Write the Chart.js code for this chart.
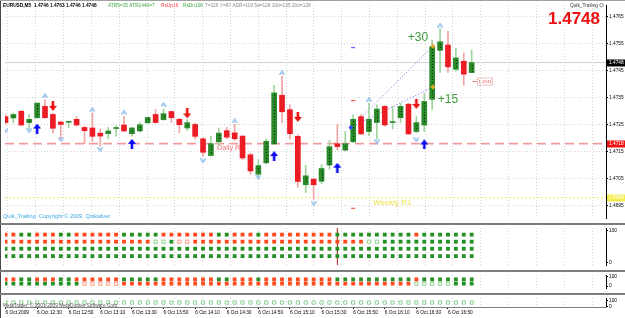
<!DOCTYPE html>
<html>
<head>
<meta charset="utf-8">
<script src="https://cdn.jsdelivr.net/npm/chart.js@4.4.1/dist/chart.umd.min.js"></script>
<style>
  html, body { margin: 0; padding: 0; background: #fff; }
  #wrap { position: relative; width: 625px; height: 318px; overflow: hidden; background: #fff; }
  #wrap canvas { position: absolute; left: 0; }
</style>
</head>
<body>
<div id="wrap">
  <canvas id="main" width="625" height="223" style="top:0px"></canvas>
  <canvas id="p1" width="625" height="47" style="top:223px"></canvas>
  <canvas id="p2" width="625" height="23" style="top:270px"></canvas>
  <canvas id="p3" width="625" height="25" style="top:293px"></canvas>
</div>
<script>
// ---- data ----
const opens  = [1.47280,1.47275,1.47300,1.47258,1.47276,1.47318,1.47288,1.47260,1.47259,1.47270,
                1.47240,1.47238,1.47219,1.47217,1.47236,1.47249,1.47217,1.47227,1.47257,1.47288,
                1.47269,1.47299,1.47270,1.47238,1.47251,1.47198,1.47136,1.47187,1.47228,1.47220,
                1.47208,1.47139,1.47067,1.47109,1.47179,1.47359,1.47306,1.47207,1.47028,1.47049,
                1.47041,1.47101,1.47180,1.47156,1.47187,1.47280,1.47225,1.47258,1.47318,1.47258,
                1.47276,1.47326,1.47225,1.47249,1.47344,1.47525,1.47545,1.47455,1.47485,1.47443];
const highs  = [1.47288,1.47294,1.47302,1.47288,1.47331,1.47342,1.47292,1.47263,1.47263,1.47280,
                1.47245,1.47294,1.47234,1.47240,1.47246,1.47282,1.47241,1.47258,1.47279,1.47306,
                1.47308,1.47301,1.47274,1.47270,1.47256,1.47202,1.47208,1.47238,1.47240,1.47252,
                1.47210,1.47145,1.47121,1.47198,1.47396,1.47431,1.47324,1.47213,1.47100,1.47051,
                1.47103,1.47192,1.47252,1.47225,1.47288,1.47288,1.47330,1.47324,1.47320,1.47318,
                1.47330,1.47330,1.47280,1.47366,1.47563,1.47607,1.47596,1.47533,1.47515,1.47527];
const lows   = [1.47252,1.47256,1.47245,1.47234,1.47273,1.47274,1.47220,1.47198,1.47238,1.47245,
                1.47180,1.47189,1.47170,1.47198,1.47208,1.47223,1.47208,1.47223,1.47256,1.47256,
                1.47266,1.47258,1.47220,1.47228,1.47198,1.47133,1.47134,1.47173,1.47198,1.47192,
                1.47121,1.47067,1.47058,1.47105,1.47177,1.47258,1.47198,1.47019,1.46999,1.46974,
                1.47031,1.47085,1.47156,1.47155,1.47184,1.47214,1.47210,1.47198,1.47245,1.47234,
                1.47258,1.47215,1.47220,1.47225,1.47306,1.47443,1.47444,1.47447,1.47396,1.47443];
const closes = [1.47258,1.47288,1.47249,1.47270,1.47330,1.47276,1.47237,1.47251,1.47260,1.47249,
                1.47228,1.47207,1.47208,1.47227,1.47238,1.47227,1.47238,1.47250,1.47277,1.47258,
                1.47291,1.47276,1.47250,1.47258,1.47207,1.47148,1.47180,1.47219,1.47204,1.47198,
                1.47127,1.47079,1.47099,1.47189,1.47368,1.47298,1.47217,1.47040,1.47061,1.47028,
                1.47088,1.47169,1.47169,1.47180,1.47270,1.47216,1.47270,1.47308,1.47249,1.47259,
                1.47318,1.47216,1.47258,1.47336,1.47539,1.47557,1.47464,1.47497,1.47437,1.47480];

const tickBars   = [0, 4, 8, 12, 16, 20, 24, 28, 32, 36, 40, 44, 48, 52, 56];
const tickLabels = ['6 Oct 2009','6 Oct 12:30','6 Oct 12:50','6 Oct 13:10','6 Oct 13:30','6 Oct 13:50',
                    '6 Oct 14:10','6 Oct 14:30','6 Oct 14:50','6 Oct 15:10','6 Oct 15:30','6 Oct 15:50',
                    '6 Oct 16:10','6 Oct 16:30','6 Oct 16:50'];
const priceTicks = [1.4765, 1.4755, 1.4745, 1.4735, 1.4725, 1.4715, 1.4705, 1.4695];

const bidLevel = 1.4748;
const dailyLevel = 1.4718;
const weeklyLevel = 1.4698;
const stopLevel = 1.4741;
const dailyLabel = 'Daily R2';
const weeklyLabel = 'Weekly R1';

const upArrowBars   = [4, 16, 34, 42, 53];
const upArrowPrices = [1.47236, 1.47179, 1.47134, 1.47091, 1.47177];
const dnArrowBars   = [6, 23, 37, 52];
const dnArrowPrices = [1.47320, 1.47292, 1.47279, 1.47327];

const fracUpBars   = [5, 11, 15, 20, 29, 35, 46, 55];
const fracUpPrices = [1.47358, 1.47306, 1.47297, 1.47325, 1.47265, 1.47443, 1.47344, 1.47619];
const fracDnBars   = [0, 3, 7, 12, 25, 32, 39, 47, 52];
const fracDnPrices = [1.47227, 1.47227, 1.47195, 1.47158, 1.47116, 1.47056, 1.46958, 1.47187, 1.47194];

const blueMarkBars = [44], blueMarkPrices = [1.47535];
const redMarkBars = [44, 44], redMarkPrices = [1.47339, 1.46941];

const trendStartBar = 43.7, trendStartPrice = 1.4724;
const trendEndBar = 54.1, trendHi = 1.4754, trendLo = 1.4739;

// indicator panes: r/g solid, R/G hollow
const pane1Rows = [
  'rrggrrrggrrrrrrgggggrrrrrrrggrrrgrrrrr' + 'rrrrggggggggggrggggggg',
  'rrrrrrrrrrrrrrrrrrr' + 'GG' + 'g' + 'RR' + 'rrrrrrrrrrrrrrrrrrrrrr' + 'GG' + 'gggggggggggg',
  'gggggggggggggggggggggggggggggggggggggggggggggggggggggggggggg',
  'gggggggggggggggggggggggggggggggggggggggggggggggggggggggggggg'
];
const pane1Levels = [87, 65, 43, 20];
const pane1MarkerBar = 42;
const pane2Rows = [
  'rrggrrrggrrrrrrgggggrrrrrrrggrrrgrrrrr' + 'rrrrggggggggggrggggggg',
  'gggggggggg' + 'RRRRR' + 'rrrrrrrrrrrrrrrrrrrrrrrrrrrrrrrrrrrrr' + 'GGGGG' + 'ggg'
];
const pane2Levels = [73, 27];
const pane3Rows = ['GGGGGGGGGGGGGGGGGGGGGGGGGGGGGGGGGGGGGGGGGGGGGGGGGGGGGGGGGGGG'];
const pane3Levels = [65];

// ---- styling ----
const FAM = '"Liberation Sans", Arial, sans-serif';
const X_MIN = -0.063, X_MAX = 76.0;
const AXIS_W = 19;
const RED = '#ec1c24', GREEN = '#2a8a2a', RED_W = '#f4a3a3', GREEN_W = '#9fd49f';
const gridBars = [];
for (let b = 0.31; b < X_MAX; b += 3.52) gridBars.push(b);

const N = opens.length;
const idx = opens.map((_, i) => i);
const isUp = idx.map(i => closes[i] >= opens[i]);

function arrowImg(color, up) {
  const c = document.createElement('canvas');
  c.width = 8; c.height = 10;
  const g = c.getContext('2d');
  g.fillStyle = color;
  g.beginPath();
  if (up) {
    g.moveTo(4, 0); g.lineTo(8, 5); g.lineTo(5.3, 5); g.lineTo(5.3, 10);
    g.lineTo(2.7, 10); g.lineTo(2.7, 5); g.lineTo(0, 5);
  } else {
    g.moveTo(4, 10); g.lineTo(8, 5); g.lineTo(5.3, 5); g.lineTo(5.3, 0);
    g.lineTo(2.7, 0); g.lineTo(2.7, 5); g.lineTo(0, 5);
  }
  g.closePath(); g.fill();
  return c;
}
function fractalImg(up) {
  const c = document.createElement('canvas');
  c.width = 6; c.height = 5;
  const g = c.getContext('2d');
  g.strokeStyle = '#7fb3e8'; g.fillStyle = '#d3e6fa'; g.lineWidth = 0.9;
  g.beginPath();
  if (up) { g.moveTo(0.5, 4.5); g.lineTo(3, 0.5); g.lineTo(5.5, 4.5); g.lineTo(3, 3); }
  else { g.moveTo(0.5, 0.5); g.lineTo(3, 4.5); g.lineTo(5.5, 0.5); g.lineTo(3, 2); }
  g.closePath(); g.fill(); g.stroke();
  return c;
}

function pts(bars, vals) { return bars.map((b, i) => ({ x: b, y: vals[i] })); }
function marker(data, style, order) {
  return { type: 'line', showLine: false, data, pointStyle: style, pointRadius: 4, order };
}

function xGrid(show) {
  return {
    type: 'linear', min: X_MIN, max: X_MAX, offset: false,
    ticks: { display: false },
    grid: { display: show, offset: false, color: '#d2d2d2', drawTicks: false },
    border: { display: false, dash: [1, 2] },
    afterBuildTicks: s => { s.ticks = gridBars.map(v => ({ value: v })); },
    afterFit: s => { s.height = 0; s.paddingLeft = 0; s.paddingRight = 0; }
  };
}

function framePlugin(isPane) {
  return {
    id: 'frame',
    afterDraw(chart) {
      const ctx = chart.ctx;
      ctx.save();
      ctx.fillStyle = '#4a4a4a';
      ctx.fillRect(0, 0, 1, chart.height);
      if (isPane) { ctx.fillStyle = '#7d7d7d'; ctx.fillRect(0, 0, chart.width, 2); }
      else { ctx.fillStyle = '#a0a0a0'; ctx.fillRect(0, 0, chart.width, 1); }
      ctx.restore();
    }
  };
}

// dotted centre of the green bodies, like the terminal draws them
const bodyDots = {
  id: 'bodyDots',
  afterDatasetDraw(chart, args) {
    if (chart.data.datasets[args.index].label !== 'bodies') return;
    const ctx = chart.ctx;
    ctx.save();
    ctx.fillStyle = '#0c300c';
    args.meta.data.forEach((el, i) => {
      if (!isUp[i]) return;
      const top = Math.min(el.y, el.base), bot = Math.max(el.y, el.base);
      for (let yy = top + 2; yy < bot - 1; yy += 3) ctx.fillRect(Math.round(el.x), Math.round(yy), 1, 1);
    });
    ctx.restore();
  }
};

const mainText = {
  id: 'mainText',
  beforeDatasetsDraw(chart) {
    const { ctx, scales: { y } } = chart;
    ctx.save();
    ctx.textBaseline = 'top';
    ctx.font = `7.2px ${FAM}`; ctx.fillStyle = '#f27878';
    ctx.fillText(dailyLabel, 217, y.getPixelForValue(dailyLevel) + 1);
    ctx.font = `8px ${FAM}`; ctx.fillStyle = '#efe74e';
    ctx.fillText(weeklyLabel, 373, y.getPixelForValue(weeklyLevel) + 1);
    ctx.restore();
  },
  afterDraw(chart) {
    const { ctx, scales: { x, y } } = chart;
    ctx.save();
    // header line
    ctx.textBaseline = 'alphabetic'; ctx.textAlign = 'left';
    ctx.font = `bold 4.8px ${FAM}`; ctx.fillStyle = '#000';
    ctx.fillText('EURUSD,M5  1.4746 1.4763 1.4746 1.4748', 3, 7.2);
    ctx.font = `4.8px ${FAM}`;
    ctx.fillStyle = '#3ca63c'; ctx.fillText('ATR5=15 ATR1440=7', 108, 7.2);
    ctx.fillStyle = '#ff3c3c'; ctx.fillText('RsUp16', 161, 7.2);
    ctx.fillStyle = '#3ca63c'; ctx.fillText('RsDn106', 183, 7.2);
    ctx.fillStyle = '#8a8a8a'; ctx.fillText('T=116 Y=87 ADR=119 5d=128 10d=135 20d=128', 205, 7.2);

    // top right: indicator name and big price
    ctx.textAlign = 'right';
    ctx.fillStyle = '#333'; ctx.fillText('Quik_Trailing', 598, 7);
    ctx.strokeStyle = '#777'; ctx.lineWidth = 0.8;
    ctx.beginPath(); ctx.arc(601.5, 5.2, 1.8, 0, Math.PI * 2); ctx.stroke();
    ctx.font = `bold 17px ${FAM}`; ctx.fillStyle = '#ee1111';
    ctx.fillText(closes[N - 1].toFixed(4), 600, 24);

    // coloured price boxes on the axis
    ctx.textAlign = 'left'; ctx.textBaseline = 'middle'; ctx.font = `4.8px ${FAM}`;
    [[bidLevel, '#000', '#fff'], [dailyLevel, '#ee1111', '#fff'], [weeklyLevel, '#f2ec4c', '#fff']].forEach(([v, bg, fg]) => {
      const py = Math.round(y.getPixelForValue(v));
      ctx.fillStyle = bg; ctx.fillRect(607, py - 3.5, 18, 7);
      ctx.fillStyle = fg; ctx.fillText(v.toFixed(4), 609, py);
    });

    // trailing targets
    const ex = x.getPixelForValue(trendEndBar);
    ctx.font = `12px ${FAM}`; ctx.fillStyle = '#3d9b3d'; ctx.textAlign = 'center';
    ctx.fillText('+' + Math.round((trendHi - trendStartPrice) * 10000), ex - 15, y.getPixelForValue(trendHi) - 9);
    ctx.fillText('+' + Math.round((trendLo - trendStartPrice) * 10000), ex + 15, y.getPixelForValue(trendLo) + 13);

    // stop label right of the last bar
    const sx = x.getPixelForValue(N - 1), sy = Math.round(y.getPixelForValue(stopLevel)) + 0.5;
    ctx.strokeStyle = '#ee8080'; ctx.lineWidth = 1;
    ctx.beginPath(); ctx.moveTo(sx + 1, sy); ctx.lineTo(sx + 5, sy); ctx.stroke();
    ctx.setLineDash([1, 1]); ctx.strokeRect(Math.round(sx) + 5.5, sy - 3.5, 15, 7); ctx.setLineDash([]);
    ctx.fillStyle = '#e05050'; ctx.font = `4.4px ${FAM}`; ctx.textAlign = 'left';
    ctx.fillText(stopLevel.toFixed(4), Math.round(sx) + 6.5, sy);

    // copyright of the indicator
    ctx.textBaseline = 'alphabetic';
    ctx.font = `5.6px ${FAM}`; ctx.fillStyle = '#3aa6e6';
    ctx.fillText('Quik_Trailing  Copyright \u00a9 2009  Quiksilver', 3, 218);
    ctx.restore();
  }
};

new Chart(document.getElementById('main'), {
  type: 'line',
  data: {
    datasets: [
      marker(pts(upArrowBars, upArrowPrices), arrowImg('#0a0af5', true), 1),
      marker(pts(dnArrowBars, dnArrowPrices), arrowImg('#ee1111', false), 1),
      marker(pts(fracUpBars, fracUpPrices), fractalImg(true), 2),
      marker(pts(fracDnBars, fracDnPrices), fractalImg(false), 2),
      Object.assign(marker(pts(blueMarkBars, blueMarkPrices), 'line', 2), { pointBorderColor: '#3b3bff', pointBorderWidth: 1, pointRadius: 2 }),
      Object.assign(marker(pts(redMarkBars, redMarkPrices), 'line', 2), { pointBorderColor: '#ee3333', pointBorderWidth: 1, pointRadius: 2 }),
      Object.assign(marker([{ x: trendEndBar, y: trendHi }, { x: trendEndBar, y: trendLo }], 'rectRot', 3),
        { pointBackgroundColor: '#e2a82a', pointBorderColor: '#e2a82a', pointRadius: 2 }),
      Object.assign(marker([{ x: trendStartBar, y: trendStartPrice }], 'circle', 3),
        { pointBackgroundColor: '#3344ff', pointBorderColor: '#3344ff', pointRadius: 1.5 }),
      {
        label: 'bodies', type: 'bar', grouped: false, barThickness: 5, minBarLength: 1, borderWidth: 0, order: 10,
        data: idx.map(i => ({ x: i, y: [opens[i], closes[i]] })),
        backgroundColor: idx.map(i => isUp[i] ? GREEN : RED)
      },
      {
        label: 'wicks', type: 'bar', grouped: false, barThickness: 1, minBarLength: 1, borderWidth: 0, order: 20,
        data: idx.map(i => ({ x: i, y: [lows[i], highs[i]] })),
        backgroundColor: idx.map(i => isUp[i] ? GREEN_W : RED_W)
      },
      { type: 'line', order: 30, data: [{ x: trendStartBar, y: trendStartPrice }, { x: trendEndBar, y: trendHi }],
        borderColor: '#6b6bff', borderWidth: 1, borderDash: [1, 2], pointRadius: 0 },
      { type: 'line', order: 30, data: [{ x: trendStartBar, y: trendStartPrice }, { x: trendEndBar, y: trendLo }],
        borderColor: '#6b6bff', borderWidth: 1, borderDash: [1, 2], pointRadius: 0 },
      { type: 'line', order: 40, data: [{ x: X_MIN, y: dailyLevel }, { x: X_MAX, y: dailyLevel }],
        borderColor: '#f29b9b', borderWidth: 1.6, borderDash: [9, 5], pointRadius: 0 },
      { type: 'line', order: 40, data: [{ x: X_MIN, y: weeklyLevel }, { x: X_MAX, y: weeklyLevel }],
        borderColor: '#f0ea50', borderWidth: 1, borderDash: [2, 2], pointRadius: 0 },
      { type: 'line', order: 40, data: [{ x: X_MIN, y: bidLevel }, { x: X_MAX, y: bidLevel }],
        borderColor: '#d2d2d2', borderWidth: 1, pointRadius: 0 }
    ]
  },
  options: {
    responsive: false, animation: false, events: [],
    layout: { padding: { left: 1, top: 2, right: 0, bottom: 1 } },
    plugins: { legend: { display: false }, tooltip: { enabled: false } },
    scales: {
      x: xGrid(true),
      y: {
        position: 'right', min: 1.46905, max: 1.47693,
        afterBuildTicks: s => { s.ticks = priceTicks.map(v => ({ value: v })); },
        afterFit: s => { s.width = AXIS_W; s.paddingTop = 0; s.paddingBottom = 0; },
        ticks: { autoSkip: false, font: { size: 4.8, family: FAM }, color: '#000', padding: 1, callback: v => v.toFixed(4) },
        grid: { color: '#d2d2d2', tickColor: '#000', tickLength: 2 },
        border: { display: true, color: '#000', width: 1, dash: [1, 2] }
      }
    }
  },
  plugins: [bodyDots, mainText, framePlugin(false)]
});

function rowDatasets(rows, levels) {
  const styles = {
    r: { pointBackgroundColor: '#ff4a1c', pointBorderColor: '#ff4a1c', pointBorderWidth: 0, pointRadius: 2.7 },
    g: { pointBackgroundColor: '#239023', pointBorderColor: '#239023', pointBorderWidth: 0, pointRadius: 2.7 },
    R: { pointBackgroundColor: '#fff', pointBorderColor: '#ff9c88', pointBorderWidth: 1, pointRadius: 2.3 },
    G: { pointBackgroundColor: '#fff', pointBorderColor: '#8fcf8f', pointBorderWidth: 1, pointRadius: 2.3 }
  };
  return Object.keys(styles).map(k => {
    const data = [];
    rows.forEach((row, r) => {
      for (let i = 0; i < row.length; i++) if (row[i] === k) data.push({ x: i, y: levels[r] });
    });
    return Object.assign({ type: 'line', showLine: false, pointStyle: 'rect', data, order: 1 }, styles[k]);
  });
}

function paneY(min, max) {
  return {
    position: 'right', min, max,
    afterBuildTicks: s => { s.ticks = [{ value: 100 }, { value: 0 }]; },
    afterFit: s => { s.width = AXIS_W; s.paddingTop = 0; s.paddingBottom = 0; },
    ticks: { autoSkip: false, font: { size: 4.8, family: FAM }, color: '#000', padding: 1, callback: v => String(v) },
    grid: { drawOnChartArea: false, tickColor: '#000', tickLength: 2 },
    border: { display: true, color: '#000' }
  };
}

function pane(id, datasets, yMin, yMax, extraScales) {
  return new Chart(document.getElementById(id), {
    type: 'line',
    data: { datasets },
    options: {
      responsive: false, animation: false, events: [],
      layout: { padding: { left: 1, top: 2, right: 0, bottom: 0 } },
      plugins: { legend: { display: false }, tooltip: { enabled: false } },
      scales: Object.assign({ x: xGrid(true), y: paneY(yMin, yMax) }, extraScales || {})
    },
    plugins: [framePlugin(true)].concat(id === 'p3' ? [{
      id: 'mqText',
      afterDraw(chart) {
        const ctx = chart.ctx;
        ctx.save();
        ctx.font = `4.8px ${FAM}`; ctx.fillStyle = '#555';
        ctx.fillText('MetaTrader, \u00a9 2001-2009 MetaQuotes Software Corp.', 3, 13.5);
        ctx.restore();
      }
    }] : [])
  });
}

pane('p1', rowDatasets(pane1Rows, pane1Levels).concat([{
  type: 'line', order: 5, data: [{ x: pane1MarkerBar, y: -7.7 }, { x: pane1MarkerBar, y: 107.7 }],
  borderColor: '#a81818', borderWidth: 1, pointRadius: 0
}]), -7.7, 107.7);

pane('p2', rowDatasets(pane2Rows, pane2Levels), -20, 120);

pane('p3', rowDatasets(pane3Rows, pane3Levels), -3.4, 134.5, {
  xt: {
    type: 'linear', position: 'bottom', min: X_MIN, max: X_MAX, offset: false,
    afterBuildTicks: s => { s.ticks = tickBars.map(v => ({ value: v })); },
    afterFit: s => { s.height = 11; s.paddingLeft = 0; s.paddingRight = 0; },
    ticks: { autoSkip: false, maxRotation: 0, minRotation: 0, align: 'start', padding: 1,
             font: { size: 4.8, family: FAM }, color: '#000', callback: (v, i) => tickLabels[i] },
    grid: { drawOnChartArea: false, tickLength: 2, tickColor: '#000' },
    border: { display: true, color: '#808080' }
  }
});
</script>
</body>
</html>
